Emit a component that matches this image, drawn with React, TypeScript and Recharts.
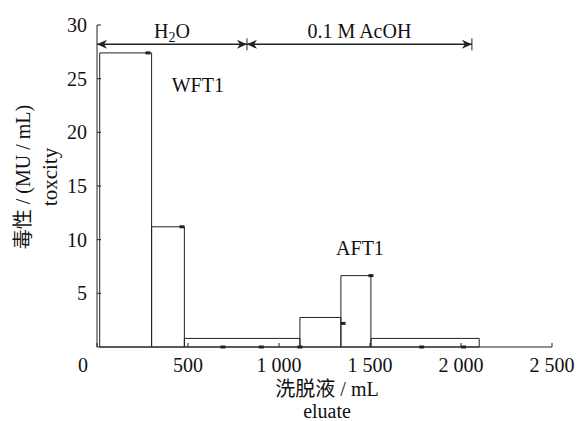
import React from "react";
import {
  ComposedChart,
  XAxis,
  YAxis,
  ReferenceArea,
  ReferenceLine,
  ReferenceDot,
  Scatter,
  Label,
} from "recharts";

// fraction bins (mL) and toxicity (MU/mL)
const binStart = [15, 300, 480, 1115, 1340, 1505];
const binEnd = [300, 480, 1115, 1340, 1505, 2100];
const toxicity = [27.4, 11.2, 0.8, 2.75, 6.65, 0.8];

// small dash markers
const markX = [280, 467, 692, 903, 1115, 1352, 1505, 1784, 2014];
const markY = [27.4, 11.2, 0, 0, 0, 2.2, 6.65, 0, 0];

// eluent phases
const phaseStart = [0, 824];
const phaseEnd = [824, 2060];
const phaseLabel = ["H2O", "0.1 M AcOH"];
const phaseY = 28.2;

const peakLabel = ["WFT1", "AFT1"];
const peakX = [554, 1445];
const peakY = [24.4, 9.2];

const xTicks = [0, 500, 1000, 1500, 2000, 2500];
const yTicks = [5, 10, 15, 20, 25, 30];

const FONT = "'Liberation Serif', 'Noto Sans CJK SC', serif";
const INK = "#222";

const marks = markX.map((x, i) => ({ x, y: markY[i] }));

const fmtX = (v: number) =>
  v >= 1000 ? `${Math.floor(v / 1000)} ${String(v % 1000).padStart(3, "0")}` : String(v);

function XTick(props: any) {
  const { x, y, payload } = props;
  const v = payload.value;
  return (
    <g>
      <line x1={x} y1={y} x2={x} y2={y - 4} stroke={INK} />
      <text
        x={v === 0 ? x - 14 : x}
        y={y + 25}
        textAnchor="middle"
        fontFamily={FONT}
        fontSize={20}
        fill="#111"
      >
        {fmtX(v)}
      </text>
    </g>
  );
}

function YTick(props: any) {
  const { x, y, payload } = props;
  return (
    <g>
      <line x1={x} y1={y} x2={x + 4} y2={y} stroke={INK} />
      <text x={x - 10} y={y + 7} textAnchor="end" fontFamily={FONT} fontSize={20} fill="#111">
        {payload.value}
      </text>
    </g>
  );
}

function PhaseArrow(props: any) {
  const { x1, y1, x2, text } = props;
  const y = y1;
  const cx = (x1 + x2) / 2;
  return (
    <g>
      <line x1={x1} y1={y} x2={x2} y2={y} stroke={INK} strokeWidth={1.5} />
      <polygon
        points={`${x1},${y} ${x1 + 10},${y - 4.5} ${x1 + 7},${y} ${x1 + 10},${y + 4.5}`}
        fill={INK}
      />
      <polygon
        points={`${x2},${y} ${x2 - 10},${y - 4.5} ${x2 - 7},${y} ${x2 - 10},${y + 4.5}`}
        fill={INK}
      />
      <line x1={x2} y1={y - 6} x2={x2} y2={y + 6} stroke={INK} strokeWidth={1} />
      <text x={cx} y={y - 6} textAnchor="middle" fontFamily={FONT} fontSize={20} fill="#111">
        {text === "H2O" ? (
          <>
            H<tspan fontSize={14} dy={4}>2</tspan>
            <tspan dy={-4}>O</tspan>
          </>
        ) : (
          text
        )}
      </text>
    </g>
  );
}

export default function App() {
  return (
    <div style={{ position: "absolute", left: 0, top: 0, background: "#fff" }}>
      <ComposedChart
        width={577}
        height={421}
        data={marks}
        margin={{ top: 25, right: 25, bottom: 0, left: 0 }}
      >
        <XAxis
          type="number"
          dataKey="x"
          domain={[0, 2500]}
          ticks={xTicks}
          height={74}
          tickSize={0}
          tickMargin={0}
          tickLine={false}
          tick={<XTick />}
          stroke={INK}
          interval={0}
        >
          <Label
            value="洗脱液 / mL"
            content={() => (
              <g fontFamily={FONT} fill="#111" textAnchor="middle">
                <text x={327} y={396} fontSize={20}>
                  洗脱液 / mL
                </text>
                <text x={327} y={418} fontSize={20}>
                  eluate
                </text>
              </g>
            )}
          />
        </XAxis>
        <YAxis
          type="number"
          domain={[0, 30]}
          ticks={yTicks}
          width={97}
          tickSize={0}
          tickMargin={0}
          tickLine={false}
          tick={<YTick />}
          stroke={INK}
          interval={0}
        >
          <Label
            value="毒性 / (MU / mL)"
            content={() => (
              <g fontFamily={FONT} fill="#111" textAnchor="middle">
                <text x={23} y={177} fontSize={20} dominantBaseline="central" transform="rotate(-90 23 177)">
                  毒性  / (MU / mL)
                </text>
                <text x={50} y={177} fontSize={21} dominantBaseline="central" transform="rotate(-90 50 177)">
                  toxcity
                </text>
              </g>
            )}
          />
        </YAxis>

        {toxicity.map((v, i) => (
          <ReferenceArea
            key={i}
            x1={binStart[i]}
            x2={binEnd[i]}
            y1={0}
            y2={v}
            fill="none"
            fillOpacity={0}
            stroke={INK}
            strokeWidth={1}
          />
        ))}

        {phaseLabel.map((t, i) => (
          <ReferenceLine
            key={t}
            segment={[
              { x: phaseStart[i], y: phaseY },
              { x: phaseEnd[i], y: phaseY },
            ]}
            shape={(p: any) => <PhaseArrow {...p} text={t} />}
          />
        ))}

        {peakLabel.map((t, i) => (
          <ReferenceDot
            key={t}
            x={peakX[i]}
            y={peakY[i]}
            shape={(p: any) => (
              <text
                x={p.cx}
                y={p.cy}
                textAnchor="middle"
                dominantBaseline="central"
                fontFamily={FONT}
                fontSize={20}
                fill="#111"
              >
                {t}
              </text>
            )}
          />
        ))}

        <Scatter
          dataKey="y"
          isAnimationActive={false}
          shape={(p: any) => (
            <rect x={p.cx - 2.5} y={p.cy - 1.5} width={5} height={3} fill={INK} />
          )}
        />
      </ComposedChart>
    </div>
  );
}
